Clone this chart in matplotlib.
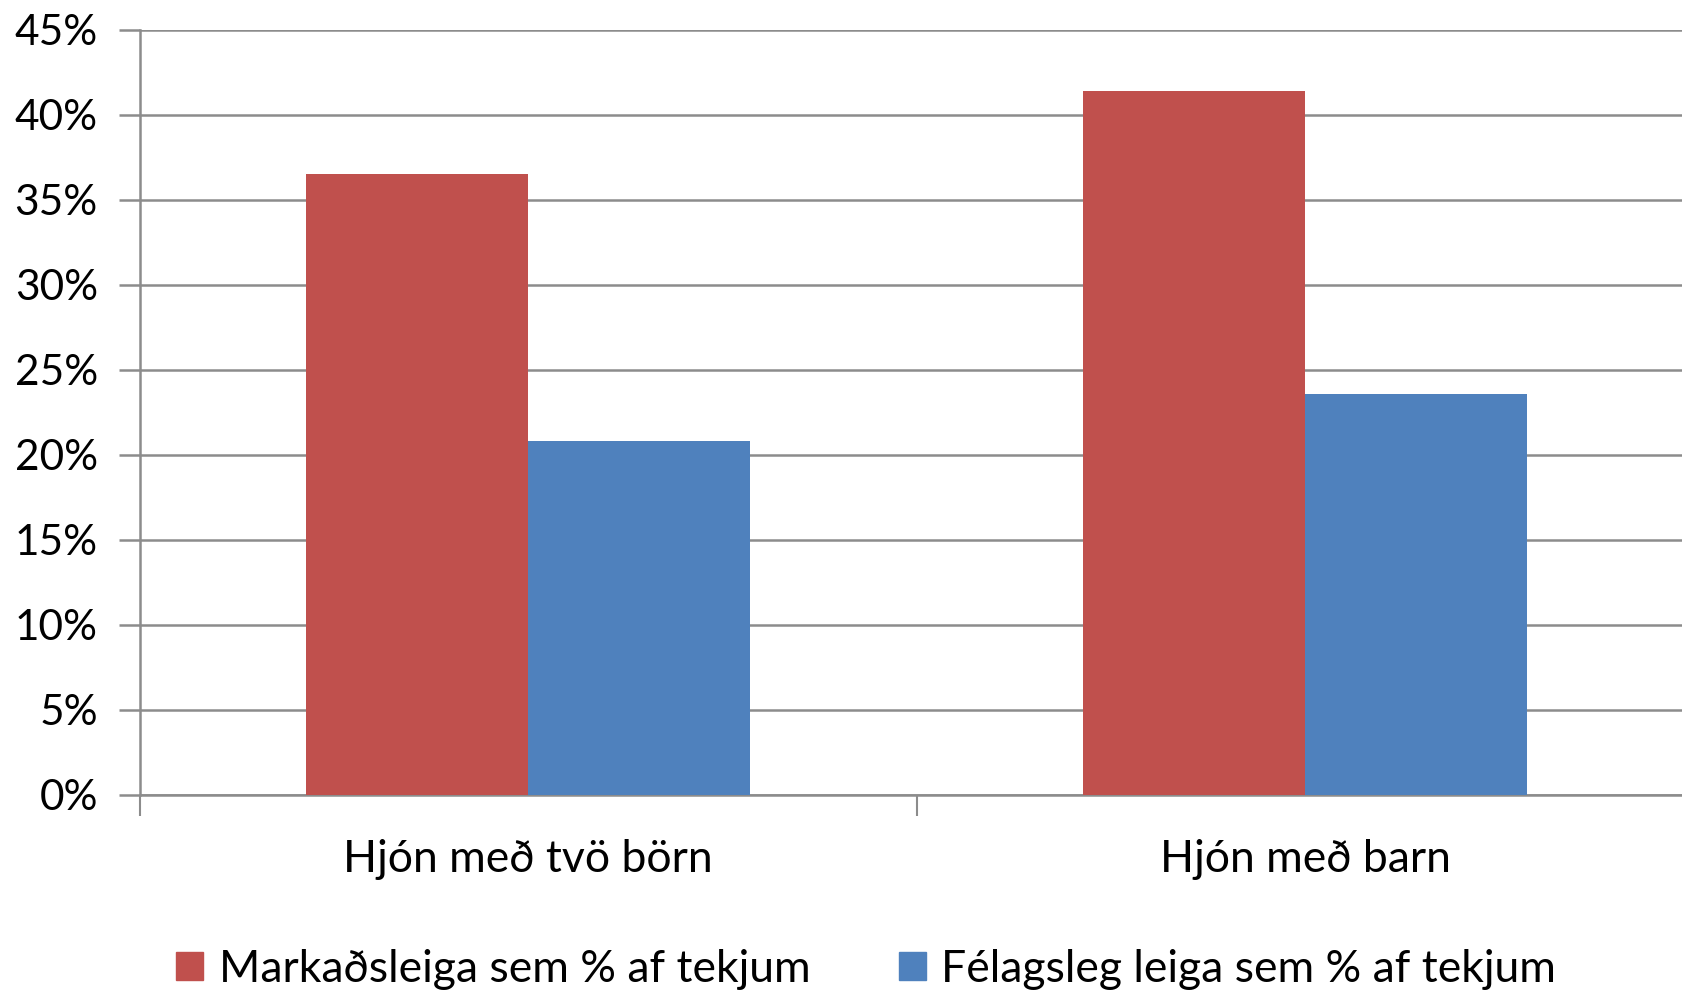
import numpy as np
import matplotlib
matplotlib.use("Agg")
import matplotlib.pyplot as plt
from matplotlib.patches import Patch

# ---- Data ----
categories = ["Hjón með tvö börn", "Hjón með barn"]
series_names = ["Markaðsleiga sem % af tekjum", "Félagsleg leiga sem % af tekjum"]
markadsleiga = [36.5, 41.4]
felagsleg = [20.8, 23.6]
yticks = [0, 5, 10, 15, 20, 25, 30, 35, 40, 45]

red = "#C0504D"
blue = "#4F81BD"
grid_col = "#8C8C8C"

plt.rcParams["font.family"] = ["Lato", "DejaVu Sans"]

fig = plt.figure(figsize=(16.82, 9.91), dpi=100)
ax = fig.add_axes([139.5 / 1682, 196 / 991, 1554 / 1682, 765.5 / 991])

x = np.arange(len(categories))
w = 0.286
ax.bar(x - w / 2, markadsleiga, w, color=red, zorder=3)
ax.bar(x + w / 2, felagsleg, w, color=blue, zorder=3)

ax.set_xlim(-0.5, len(categories) - 0.5)
ax.set_ylim(0, 45)
ax.set_yticks(yticks)
ax.set_yticklabels([f"{t}%" for t in yticks], fontsize=30.5)
ax.yaxis.grid(True, color=grid_col, linewidth=1.8, zorder=0)
ax.tick_params(axis="y", length=15, width=1.8, color=grid_col, pad=15)

# category labels centered, ticks on boundaries
ax.set_xticks(x)
ax.set_xticklabels(categories, fontsize=32)
ax.tick_params(axis="x", length=0, pad=32)
ax.set_xticks(np.arange(len(categories) + 1) - 0.5, minor=True)
ax.tick_params(axis="x", which="minor", length=15, width=1.5, color=grid_col)

for s in ["top", "right"]:
    ax.spines[s].set_visible(False)
ax.spines["left"].set_color(grid_col)
ax.spines["left"].set_linewidth(1.8)
ax.spines["bottom"].set_color(grid_col)
ax.spines["bottom"].set_linewidth(1.8)

handles = [Patch(color=red), Patch(color=blue)]
fig.legend(handles, series_names, loc="center", bbox_to_anchor=(0.515, 0.022),
           ncol=2, frameon=False, fontsize=32, handlelength=0.6, handleheight=0.6,
           handletextpad=0.35, columnspacing=2.0)

fig.savefig("out.png", dpi=100)
